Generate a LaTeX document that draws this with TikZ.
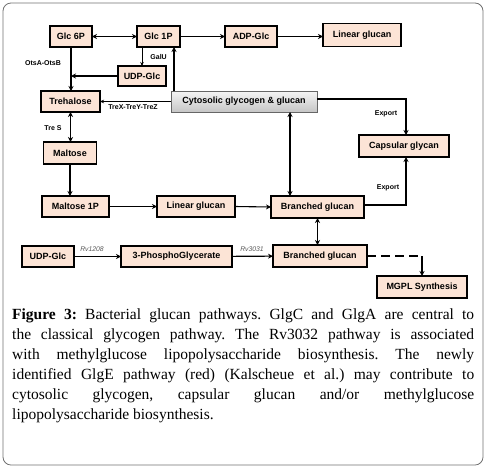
\documentclass[tikz,border=0pt]{standalone}
\usepackage{fontspec}
\setmainfont{Liberation Serif}
\newfontfamily\arialf{Liberation Sans}
\usetikzlibrary{arrows.meta,calc}
\definecolor{peach}{HTML}{FCE4D6}
\definecolor{framegray}{HTML}{707070}
\tikzset{
  box/.style={draw=black, line width=1.2pt, fill=peach, inner sep=0pt, outer sep=0pt,
    font=\arialf\bfseries\fontsize{9}{10}\selectfont, align=center},
  graybox/.style={draw=gray!80!black, line width=0.8pt, top color=gray!8, bottom color=gray!45,
    inner sep=0pt, outer sep=0pt, font=\arialf\bfseries\fontsize{9}{10}\selectfont},
  arr/.style={line width=1.1pt, -{Stealth[length=5pt,width=5pt]}},
  darr/.style={line width=1.1pt, {Stealth[length=5pt,width=5pt]}-{Stealth[length=5pt,width=5pt]}},
  tarr/.style={line width=0.5pt, -{Stealth[length=4pt,width=3.5pt]}},
  lbl/.style={font=\arialf\bfseries\fontsize{7}{8}\selectfont, inner sep=0pt},
  ilbl/.style={font=\arialf\itshape\fontsize{6.8}{8}\selectfont, text=gray!70!black, inner sep=0pt}
}
\begin{document}
\frenchspacing
\begin{tikzpicture}[x=1pt,y=-1pt]
\useasboundingbox (0,0) rectangle (486,469);
\draw[framegray, line width=0.8pt, rounded corners=8pt] (3,3) rectangle (483,465);
% boxes
\node[box, minimum width=42pt, minimum height=21pt] (glc6p) at (71,36.5) {Glc 6P};
\node[box, minimum width=43pt, minimum height=21pt] (glc1p) at (158.5,36.5) {Glc 1P};
\node[box, minimum width=52pt, minimum height=21pt] (adpglc) at (251,36.5) {ADP-Glc};
\node[box, minimum width=78pt, minimum height=23pt] (lin1) at (362,35) {Linear glucan};
\node[box, minimum width=48pt, minimum height=20pt] (udp1) at (142,76) {UDP-Glc};
\node[box, minimum width=59pt, minimum height=21pt] (treh) at (70.5,101.5) {Trehalose};
\node[graybox, minimum width=146pt, minimum height=21pt] (cyto) at (244,101.5) {Cytosolic glycogen \& glucan};
\node[box, minimum width=53pt, minimum height=22pt] (malt) at (70,153) {Maltose};
\node[box, minimum width=90pt, minimum height=22pt] (caps) at (404,146) {Capsular glycan};
\node[box, minimum width=67pt, minimum height=21pt] (malt1p) at (75.5,206.5) {Maltose 1P};
\node[box, minimum width=78pt, minimum height=21pt] (lin2) at (196,206.5) {Linear glucan};
\node[box, minimum width=93pt, minimum height=22pt] (br1) at (317.5,207) {Branched glucan};
\node[box, minimum width=52pt, minimum height=21pt] (udp2) at (48,256.5) {UDP-Glc};
\node[box, minimum width=111pt, minimum height=21pt] (pg) at (176.5,256.5) {3-PhosphoGlycerate};
\node[box, minimum width=94pt, minimum height=22pt] (br2) at (320,256) {Branched glucan};
\node[box, minimum width=90pt, minimum height=22pt] (mgpl) at (422,287) {MGPL Synthesis};
% helper coordinates
\coordinate (cytoout) at ([yshift=2.5pt]cyto.east);
\coordinate (capsin) at ([xshift=2pt]caps.north);
\coordinate (br1out) at ([yshift=2pt]br1.east);
\coordinate (capsin2) at ([xshift=2pt]caps.south);
% connectors
\draw[darr] (glc6p) -- (glc1p);
\draw[arr] (glc1p) -- (adpglc);
\draw[arr] (adpglc.east) -- (lin1.west |- adpglc.east);
\draw[tarr] (glc1p.south -| udp1.north) -- (udp1.north);
\draw[arr] ([xshift=3pt]cyto.north west) -- ([xshift=3pt]cyto.north west |- glc1p.south);
\node[lbl, anchor=east] (galu) at (167,57) {GalU};
\draw[arr] (glc6p.south) -- (glc6p.south |- treh.north);
\draw[arr] (udp1.west) -- (udp1.west -| glc6p.south);
\node[lbl] (ots) at (43,63) {OtsA-OtsB};
\draw[tarr] (cyto.west) -- (treh.east);
\node[lbl] (trex) at (133,107.5) {TreX-TreY-TreZ};
\draw[darr] (treh.south) -- (treh.south |- malt.north);
\node[lbl] (tres) at (53,128) {Tre S};
\draw[arr] (malt.south) -- (malt.south |- malt1p.north);
\draw[arr] (malt1p) -- (lin2);
\draw[arr] (lin2.east) -- (br1.west);
\draw[darr] ([xshift=-27.5pt]br1.north) -- ([xshift=-27.5pt]br1.north |- cyto.south);
\draw[arr] (cytoout) -- (capsin |- cytoout) -- (capsin);
\node[lbl] (exp1) at (386,114) {Export};
\draw[arr] (br1out) -- (capsin2 |- br1out) -- (capsin2);
\node[lbl] (exp2) at (388,188) {Export};
\draw[darr] (br1.south) -- (br1.south |- br2.north);
\draw[arr] (udp2) -- (pg);
\node[ilbl] (rv1) at (92,249) {Rv1208};
\draw[arr] (pg) -- (br2);
\node[ilbl] (rv3) at (252,249.5) {Rv3031};
\coordinate (corner) at (mgpl.north |- br2.east);
\draw[line width=1.3pt, dash pattern=on 9pt off 5pt] (br2.east) -- (corner);
\draw[arr] (corner) -- (mgpl.north);
% caption
\node[anchor=north west, text width=462pt, align=justify, inner sep=0pt,
  font=\fontsize{15.5}{20}\selectfont] (cap) at (12,309)
{\textbf{Figure 3:} Bacterial glucan pathways. GlgC and GlgA are central to\linebreak
the classical glycogen pathway. The Rv3032 pathway is associated\linebreak
with methylglucose lipopolysaccharide biosynthesis. The newly\linebreak
identified GlgE pathway (red) (Kalscheue et al.) may contribute to\linebreak
cytosolic glycogen, capsular glucan and/or methylglucose\linebreak
lipopolysaccharide biosynthesis.};
\end{tikzpicture}
\end{document}
